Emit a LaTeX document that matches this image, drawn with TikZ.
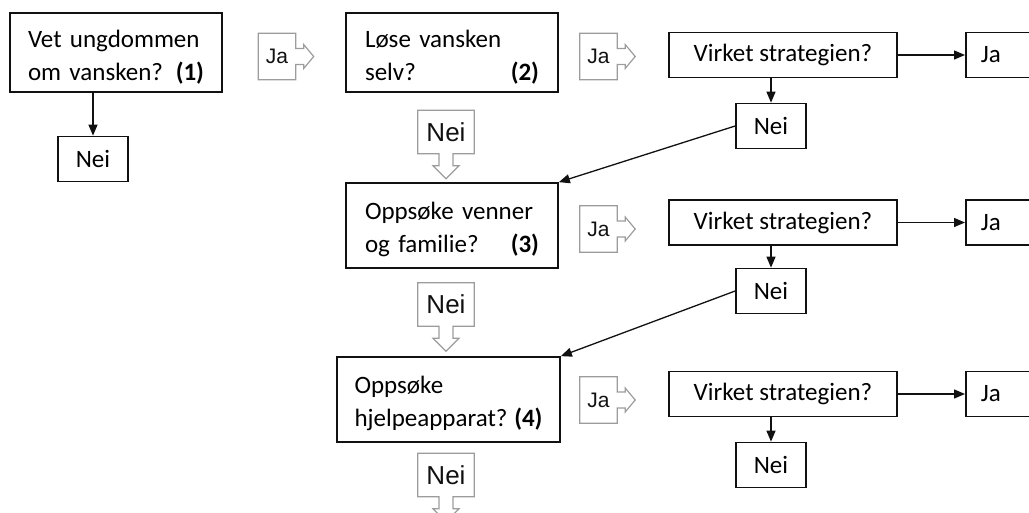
\documentclass[tikz,border=0pt]{standalone}
\usepackage{fontspec}
\setmainfont{Carlito}
\newfontfamily\tagfont{Liberation Sans}
\usetikzlibrary{arrows.meta,calc}
\definecolor{ink}{HTML}{111111}
\definecolor{tagedge}{HTML}{9C9C9C}
\newcommand\firstline{\rule{0pt}{26pt}}
\tikzset{>={Triangle[length=11pt,width=9pt]},
  qbox/.style={draw=ink,line width=1.7pt,align=left,inner ysep=0pt,font=\fontsize{25}{33}\selectfont},
  small/.style={draw=ink,line width=1.7pt,minimum width=70pt,minimum height=45pt,inner sep=0pt,font=\fontsize{25}{30}\selectfont},
  virk/.style={small,minimum width=228pt},
  jabox/.style={small,anchor=west,text width=50pt,align=left,inner xsep=15pt},
  tag/.style={minimum width=37pt,minimum height=46pt,inner sep=0pt,text=ink,font=\tagfont\fontsize{21}{24}\selectfont},
  neitag/.style={tag,minimum width=56pt,minimum height=43pt,font=\tagfont\fontsize{26}{28}\selectfont},
  tagline/.style={draw=tagedge,line width=1.2pt,line join=miter},
  link/.style={draw=ink,line width=1.3pt,->}}
\begin{document}
\begin{tikzpicture}[x=1pt,y=-1pt]
  \useasboundingbox (0,0) rectangle (1029,513);
  % questions
  \node[qbox,text width=176pt,inner xsep=18pt,minimum height=79pt] (q1) at (116,52.5)
    {\firstline Vet ungdommen\\om vansken?\hfill\textbf{(1)}};
  \node[small] (n0) at (93,159) {Nei};
  \node[qbox,text width=174pt,inner xsep=19pt,minimum height=79pt] (q2) at (452,52.5)
    {\firstline Løse vansken\\selv?\hfill\textbf{(2)}\hspace*{6pt}};
  \node[qbox,text width=174pt,inner xsep=19pt,minimum height=85pt] (q3) at (452,225.5)
    {\firstline Oppsøke venner\\og familie?\hfill\textbf{(3)}\hspace*{7pt}};
  \node[qbox,text width=188pt,inner xsep=17.5pt,minimum height=85pt] (q4) at (448.5,399.5)
    {\firstline Oppsøke\\hjelpeapparat?\hfill\textbf{(4)}};
  % ja / nei tags
  \node[tag] (ja1) at (277,56.5) {Ja};
  \node[tag] (ja2) at (598.5,56.5) {Ja};
  \node[tag] (ja3) at (598.5,229) {Ja};
  \node[tag] (ja4) at (598.5,400) {Ja};
  \node[neitag] (nt1) at (446,132) {Nei};
  \node[neitag] (nt2) at (446,304.5) {Nei};
  \node[neitag] (nt3) at (446,475) {Nei};
  \foreach \t in {ja1,ja2,ja3,ja4}
    \draw[tagline] (\t.north west) -- (\t.north east) -- ($(\t.east)+(0,-8)$)
      -- ($(\t.east)+(8,-8)$) -- ($(\t.east)+(8,-12)$) -- ($(\t.east)+(18,0)$)
      -- ($(\t.east)+(8,12)$) -- ($(\t.east)+(8,8)$) -- ($(\t.east)+(0,8)$)
      -- (\t.south east) -- (\t.south west) -- cycle;
  \foreach \t in {nt1,nt2,nt3}
    \draw[tagline] (\t.south east) -- (\t.north east) -- (\t.north west) -- (\t.south west)
      -- ($(\t.south)+(-7,0)$) -- ($(\t.south)+(-7,12)$) -- ($(\t.south)+(-13,12)$)
      -- ($(\t.south)+(0,25)$) -- ($(\t.south)+(13,12)$) -- ($(\t.south)+(7,12)$)
      -- ($(\t.south)+(7,0)$) -- cycle;
  % strategy checks
  \node[virk] (v1) at (783,55) {Virket strategien?};
  \node[virk] (v2) at (783,222.5) {Virket strategien?};
  \node[virk] (v3) at (783,394) {Virket strategien?};
  \node[jabox] (y1) at (965,55) {Ja};
  \node[jabox] (y2) at (965,222.5) {Ja};
  \node[jabox] (y3) at (965,394) {Ja};
  \node[small] (n1) at (771,126) {Nei};
  \node[small] (n2) at (771,291) {Nei};
  \node[small] (n3) at (771,465) {Nei};
  % connectors
  \draw[link] (q1.south -| n0.north) -- (n0.north);
  \draw[link] (v1.east) -- (y1.west);
  \draw[link] (v2.east) -- (y2.west);
  \draw[link] (v3.east) -- (y3.west);
  \draw[link] (v1.south -| n1.north) -- (n1.north);
  \draw[link] (v2.south -| n2.north) -- (n2.north);
  \draw[link] (v3.south -| n3.north) -- (n3.north);
  \draw[link] (n1.west) -- (q3.north east);
  \draw[link] (n2.west) -- (q4.north east);
\end{tikzpicture}
\end{document}
